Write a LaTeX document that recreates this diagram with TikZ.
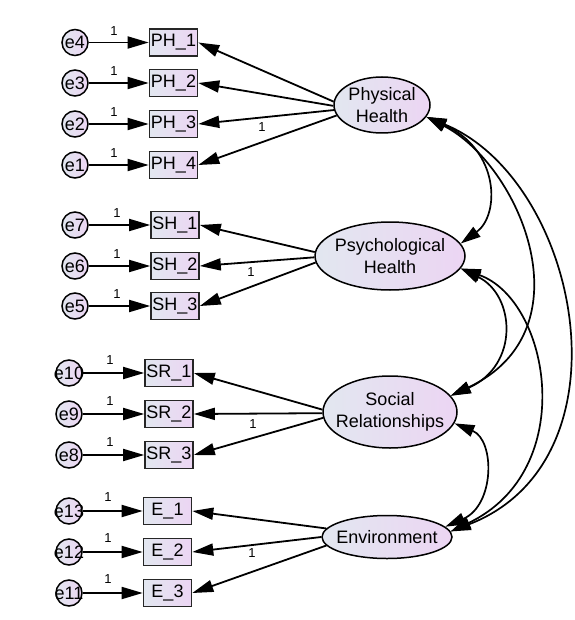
\documentclass[tikz,border=0pt]{standalone}
\usepackage{fontspec}
\setmainfont{Liberation Sans}
\usetikzlibrary{arrows.meta,shapes.geometric}
\definecolor{cL}{RGB}{226,231,240}
\definecolor{cR}{RGB}{236,213,243}
\begin{document}
\begin{tikzpicture}[x=1pt,y=-1pt,
  every node/.style={font=\fontsize{18}{22}\selectfont},
  obs/.style={draw=black!85, line width=1.6pt, left color=cL, right color=cR, minimum width=48pt, minimum height=27pt, inner sep=0pt},
  err/.style={circle, draw=black, line width=1.5pt, left color=cL, right color=cR, minimum size=26pt, inner sep=-5pt},
  lat/.style={ellipse, draw=black, line width=1.5pt, left color=cL, right color=cR, inner xsep=-12pt, inner ysep=0pt, align=center},
  one/.style={font=\fontsize{13}{15}\selectfont, inner sep=0pt},
  arr/.style={line width=1.8pt, -{Triangle[length=21pt,width=12pt]}},
  cov/.style={line width=1.7pt, {Triangle[length=20pt,width=12pt]}-{Triangle[length=20pt,width=12pt]}},
]
\useasboundingbox[fill=white] (0,0) rectangle (574,620);

% latent variables
\node[lat, minimum width=96pt, minimum height=56pt] (ph) at (382,105) {Physical\\Health};
\node[lat, minimum width=150pt, minimum height=68pt] (psy) at (390,256) {Psychological\\Health};
\node[lat, minimum width=134pt, minimum height=72pt] (soc) at (390,412) {Social\\Relationships};
\node[lat, minimum width=130pt, minimum height=43pt] (env) at (387,537) {Environment};

% observed variables
\node[obs] (PH1) at (173.5,42.5) {PH\_1};
\node[obs] (PH2) at (173.5,83) {PH\_2};
\node[obs] (PH3) at (173.5,124) {PH\_3};
\node[obs] (PH4) at (173.5,165) {PH\_4};
\node[obs] (SH1) at (175,225) {SH\_1};
\node[obs] (SH2) at (175,266) {SH\_2};
\node[obs] (SH3) at (175,306) {SH\_3};
\node[obs] (SR1) at (169,373) {SR\_1};
\node[obs] (SR2) at (169,414) {SR\_2};
\node[obs] (SR3) at (169,455) {SR\_3};
\node[obs] (E1) at (167.5,511) {E\_1};
\node[obs] (E2) at (167.5,552) {E\_2};
\node[obs] (E3) at (167.5,593) {E\_3};

% errors
\node[err] (e4) at (75,42.5) {e4};
\node[err] (e3) at (75,83) {e3};
\node[err] (e2) at (75,124) {e2};
\node[err] (e1) at (75,165) {e1};
\node[err] (e7) at (75,225) {e7};
\node[err] (e6) at (75,266) {e6};
\node[err] (e5) at (75,306) {e5};
\node[err] (e10) at (69,373) {e10};
\node[err] (e9) at (69,414) {e9};
\node[err] (e8) at (69,455) {e8};
\node[err] (e13) at (69,511) {e13};
\node[err] (e12) at (69,552) {e12};
\node[err] (e11) at (69,593) {e11};

% error arrows
\draw[arr] (e4) -- (PH1);
\draw[arr] (e3) -- (PH2);
\draw[arr] (e2) -- (PH3);
\draw[arr] (e1) -- (PH4);
\draw[arr] (e7) -- (SH1);
\draw[arr] (e6) -- (SH2);
\draw[arr] (e5) -- (SH3);
\draw[arr] (e10) -- (SR1);
\draw[arr] (e9) -- (SR2);
\draw[arr] (e8) -- (SR3);
\draw[arr] (e13) -- (E1);
\draw[arr] (e12) -- (E2);
\draw[arr] (e11) -- (E3);

% loadings
\draw[arr] (ph.176) -- (PH1.east);
\draw[arr] (ph.181) -- (PH2.east);
\draw[arr] (ph.186) -- (PH3.east);
\draw[arr] (ph.193) -- (PH4.east);
\draw[arr] (psy.177) -- (SH1.east);
\draw[arr] (psy.181) -- (SH2.east);
\draw[arr] (psy.185) -- (SH3.east);
\draw[arr] (soc.178) -- (SR1.east);
\draw[arr] (soc.181) -- (SR2.east);
\draw[arr] (soc.185) -- (SR3.east);
\draw[arr] (env.172) -- (E1.east);
\draw[arr] (env.180) -- (E2.east);
\draw[arr] (env.188) -- (E3.east);

% covariances
\draw[cov] (ph.-15) .. controls (500,150) and (500,215) .. (psy.10);
\draw[cov] (ph.-15) .. controls (520,165) and (590,330) .. (soc.15);
\draw[cov] (ph.-15) .. controls (580,180) and (635,460) .. (env.5);
\draw[cov] (psy.-10) .. controls (515,295) and (520,365) .. (soc.15);
\draw[cov] (psy.-10) .. controls (550,300) and (580,470) .. (env.5);
\draw[cov] (soc.-10) .. controls (495,440) and (495,505) .. (env.10);

% labels "1"
\node[one] (l4) at (114,31) {1};
\node[one] (l3) at (114,71) {1};
\node[one] (l2) at (114,112) {1};
\node[one] (l1) at (114,153) {1};
\node[one] (l7) at (117,213) {1};
\node[one] (l6) at (117,254) {1};
\node[one] (l5) at (117,294) {1};
\node[one] (l10) at (110,360) {1};
\node[one] (l9) at (110,401) {1};
\node[one] (l8) at (110,442) {1};
\node[one] (l13) at (108,497) {1};
\node[one] (l12) at (108,538) {1};
\node[one] (l11) at (108,579) {1};
\node[one] (lph) at (262,127) {1};
\node[one] (lpsy) at (251,272) {1};
\node[one] (lsoc) at (253,424) {1};
\node[one] (lenv) at (252,553) {1};
\end{tikzpicture}
\end{document}
